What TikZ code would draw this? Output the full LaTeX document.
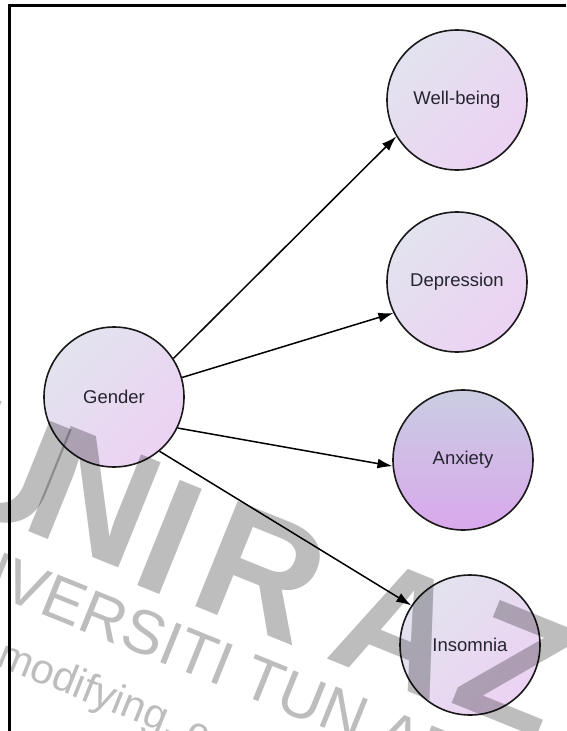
\documentclass[tikz,border=0pt]{standalone}
\usepackage{fontspec}
\setmainfont{Liberation Sans}
\usetikzlibrary{arrows.meta}
\definecolor{ca}{HTML}{E2E3EE}
\definecolor{cb}{HTML}{ECD2F3}
\definecolor{da}{HTML}{CACDE2}
\definecolor{db}{HTML}{D9A8EC}
\definecolor{txt}{HTML}{25242F}
\begin{document}
\begin{tikzpicture}[x=1pt,y=-1pt,
  var/.style={circle,draw=black!90,line width=1.6pt,minimum size=140pt,inner sep=0pt,
    top color=ca,bottom color=cb,shading angle=45,
    font=\fontsize{18.5}{22}\selectfont,text=txt},
  varhi/.style={var,top color=da,bottom color=db},
  link/.style={-{Latex[length=15pt,width=10pt]},line width=1.5pt},
  wm/.style={text=black,opacity=0.26,inner sep=0pt,rotate=-22}]
\useasboundingbox (0,0) rectangle (566,731);
\fill[white] (0,0) rectangle (566,731);
% frame
\draw[line width=2.5pt] (9.5,731) -- (9.5,5.5) -- (566,5.5);
% variables
\node[var]   (g)   at (114,397) {Gender};
\node[var]   (wb)  at (457,100) {Well-being};
\node[var]   (dep) at (457,282) {Depression};
\node[varhi] (anx) at (463,460) {Anxiety};
\node[var]   (ins) at (470,645) {Insomnia};
% paths
\draw[link] (g.33)  -- (wb.211);
\draw[link] (g.16)  -- (dep.206);
\draw[link] (g.-26) -- (anx.185);
\draw[link] (g.-50) -- (ins.146);
% watermark
\begin{scope}
\clip (0,0) rectangle (566,731);
\foreach \ch/\px/\py in {U/5/465,N/95/497,I/170/537,R/262/572,A/400/627,Z/515/668,A/630/712}
  \node[wm,font=\fontsize{165}{165}\bfseries\selectfont] (wm\ch\px) at (\px,\py) {\ch};
\node[wm,anchor=base west,font=\fontsize{62}{62}\selectfont] (wm2) at (-100,557) {UNIVERSITI TUN ABDUL RAZAK};
\node[wm,anchor=base west,font=\fontsize{42}{42}\selectfont] (wm3) at (-5,665) {modifying, c};
\end{scope}
\end{tikzpicture}
\end{document}
